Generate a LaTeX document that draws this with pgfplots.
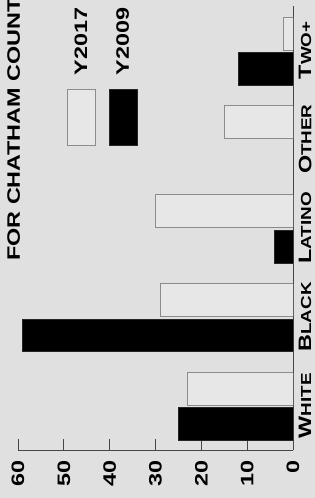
\documentclass[border=0pt]{standalone}
\usepackage{fontspec}
\setmainfont{Liberation Sans}[FakeStretch=1.3]
\usepackage{pgfplots}
\pgfplotsset{compat=1.18}
\definecolor{bg}{RGB}{224,224,224}
\definecolor{lightbar}{RGB}{231,231,231}
\definecolor{lightedge}{RGB}{140,140,140}
\definecolor{axisgray}{RGB}{70,70,70}
\newcommand{\SC}[2]{#1{\fontsize{14.5}{14.5}\selectfont #2}}
\newcommand{\lblfont}{\bfseries\fontsize{18}{18}\selectfont}
\pgfplotsset{boxlegend/.style={legend image code/.code={\draw[##1] (0pt,-14pt) rectangle (56pt,14pt);}}}
\begin{document}
\rotatebox{90}{%
\begin{tikzpicture}
\fill[bg] (-48pt,-22pt) rectangle (450pt,293pt);
\begin{axis}[
  at={(0pt,0pt)}, anchor=south west,
  scale only axis, width=444pt, height=275pt,
  ybar,
  xmin=-0.5, xmax=4.5, ymin=0, ymax=60,
  enlargelimits=false,
  bar width=0.37,
  axis x line*=bottom, axis y line*=left,
  axis line style={axisgray, line width=0.9pt},
  tick style={axisgray, line width=0.9pt},
  ytick={0,10,...,60},
  major tick length=11pt,
  minor tick length=7pt,
  xtick=\empty,
  minor xtick={0.5,1.5,2.5,3.5,4.5},
  extra x ticks={0,1,2,3,4},
  extra x tick labels={\SC{W}{HITE},\SC{B}{LACK},\SC{L}{ATINO},\SC{O}{THER},\SC{T}{WO+}},
  extra x tick style={major tick length=0pt,
    xticklabel style={anchor=north, inner sep=0pt, inner ysep=5.5pt, font=\lblfont, text=black}},
  /pgf/number format/assume math mode=true,
  yticklabel style={anchor=east, inner sep=0pt, inner xsep=10pt, font=\lblfont, text=black},
  legend style={at={(axis description cs:0.840,0.693)}, anchor=center,
    draw=none, fill=none, font=\lblfont, row sep=13pt, column sep=14pt,
    nodes={inner sep=0pt}},
  legend cell align=left,
]
\addplot[draw=lightedge, fill=lightbar, line width=0.9pt, bar shift=0.19, boxlegend]
  coordinates {(0,23) (1,29) (2,30) (3,15) (4,2)};
\addlegendentry{Y2017}
\addplot[draw=black!85, fill=black, line width=0.9pt, bar shift=-0.21, boxlegend]
  coordinates {(0,25) (1,59) (2,4) (4,12)};
\addlegendentry{Y2009}
\end{axis}
\node[anchor=base west, font=\lblfont, inner sep=0pt] at (189pt,273pt) {FOR CHATHAM COUNT};
\pgfresetboundingbox
\useasboundingbox (-48pt,-22pt) rectangle (450pt,293pt);
\end{tikzpicture}}
\end{document}
